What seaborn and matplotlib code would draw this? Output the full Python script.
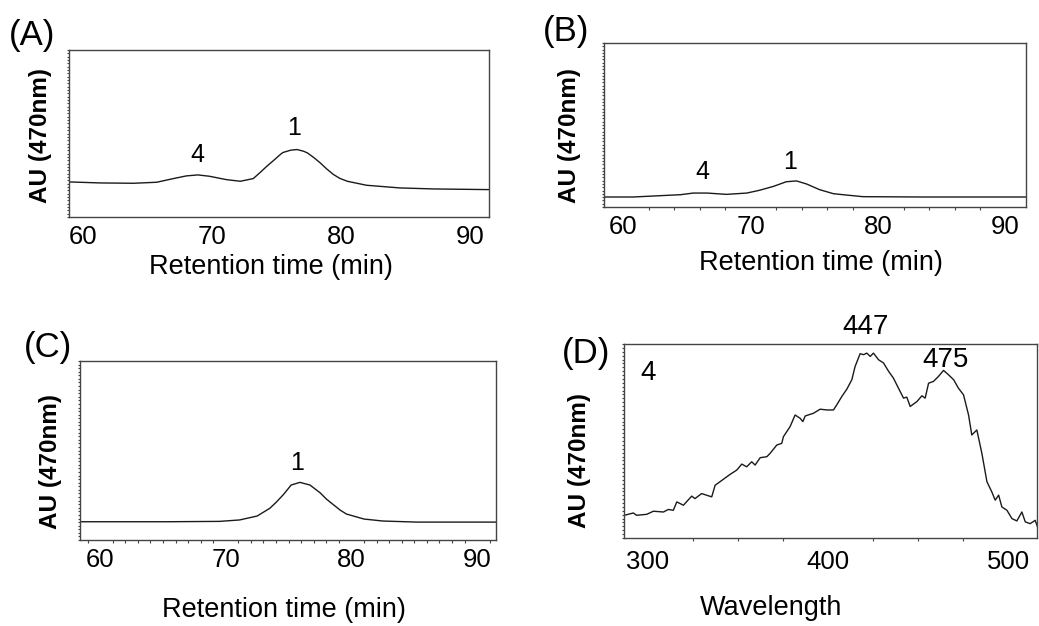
import numpy as np
import pandas as pd
import matplotlib
matplotlib.use("Agg")
import matplotlib.pyplot as plt
from matplotlib.ticker import MultipleLocator, NullLocator
import seaborn as sns

sns.set_style("white")
plt.rcParams['font.family'] = ['Liberation Sans', 'DejaVu Sans']
plt.rcParams['text.color'] = 'black'
plt.rcParams['axes.labelcolor'] = 'black'
plt.rcParams['xtick.color'] = 'black'
plt.rcParams['ytick.color'] = 'black'

# ---------------- data ----------------
# (A) chromatogram
a_time = [58.9, 61.3, 63.9, 65.7, 67.0, 68.0, 68.9, 69.8, 71.1, 72.2, 73.2, 73.7, 74.2,
          74.8, 75.3, 75.5, 76.1, 76.6, 77.1, 77.4, 77.9, 78.4, 78.9, 79.4, 79.9, 80.5,
          82.0, 84.6, 87.2, 91.5]
a_au = [0.210, 0.204, 0.202, 0.208, 0.230, 0.246, 0.252, 0.244, 0.224, 0.214, 0.230, 0.264,
        0.300, 0.340, 0.374, 0.386, 0.400, 0.404, 0.394, 0.384, 0.356, 0.324, 0.288, 0.256,
        0.232, 0.214, 0.190, 0.174, 0.168, 0.164]

# (B) chromatogram
b_time = [58.5, 60.8, 62.9, 64.5, 65.5, 66.6, 68.1, 69.7, 70.7, 71.8, 72.8, 73.6, 74.4,
          75.4, 76.5, 77.5, 78.8, 83.3, 91.6]
b_au = [0.061, 0.061, 0.069, 0.075, 0.085, 0.085, 0.077, 0.085, 0.102, 0.126, 0.154, 0.159,
        0.140, 0.106, 0.081, 0.073, 0.063, 0.061, 0.061]

# (C) chromatogram
c_time = [58.4, 65.3, 69.5, 71.1, 72.5, 73.5, 74.0, 74.6, 75.2, 75.9, 76.7, 77.5, 78.0,
          78.6, 79.1, 79.6, 81.0, 82.5, 85.2, 91.5]
c_au = [0.102, 0.102, 0.104, 0.112, 0.134, 0.177, 0.210, 0.255, 0.307, 0.322, 0.307, 0.264,
        0.229, 0.195, 0.167, 0.145, 0.117, 0.106, 0.100, 0.100]

# (D) UV-Vis spectrum of peak 4
d_wl = [286.9, 291.9, 293.7, 299.3, 303.0, 308.6, 311.3, 314.1, 316.0, 319.7, 324.3, 326.1,
        329.8, 335.4, 337.3, 340.0, 345.6, 349.3, 352.1, 354.8, 357.6, 359.5, 362.3, 366.0,
        367.8, 371.5, 374.3, 375.2, 378.9, 381.7, 384.5, 386.0, 387.3, 391.9, 395.6, 399.3,
        403.0, 404.8, 407.6, 410.4, 413.2, 415.0, 417.8, 419.7, 421.5, 423.4, 425.2, 428.0,
        430.8, 433.6, 436.3, 439.1, 441.9, 443.7, 445.6, 449.3, 452.1, 453.9, 455.8, 458.5,
        461.3, 464.1, 466.9, 469.7, 472.4, 475.2, 478.0, 479.8, 482.6, 485.4, 488.2, 490.9,
        492.8, 494.7, 496.5, 499.3, 502.1, 504.8, 507.6, 509.5, 512.2, 515.0, 516.3]
d_au = [0.117, 0.129, 0.117, 0.122, 0.138, 0.134, 0.147, 0.143, 0.186, 0.169, 0.216, 0.203,
        0.229, 0.212, 0.272, 0.290, 0.328, 0.350, 0.381, 0.367, 0.393, 0.376, 0.414, 0.419,
        0.436, 0.479, 0.488, 0.522, 0.574, 0.634, 0.617, 0.600, 0.629, 0.643, 0.664, 0.660,
        0.660, 0.686, 0.729, 0.767, 0.816, 0.884, 0.950, 0.945, 0.953, 0.936, 0.953, 0.919,
        0.902, 0.859, 0.824, 0.772, 0.721, 0.726, 0.678, 0.703, 0.733, 0.721, 0.798, 0.807,
        0.833, 0.864, 0.841, 0.816, 0.772, 0.738, 0.634, 0.531, 0.557, 0.436, 0.290, 0.238,
        0.195, 0.221, 0.160, 0.143, 0.100, 0.088, 0.134, 0.083, 0.074, 0.091, 0.057]

time_ticks = [60, 70, 80, 90]
wl_ticks = [300, 400, 500]
panel_labels = ["(A)", "(B)", "(C)", "(D)"]
y_label = "AU (470nm)"
x_label_time = "Retention time (min)"
x_label_wl = "Wavelength"

# ---------------- figure ----------------
W, H = 1039, 626
fig = plt.figure(figsize=(W / 100, H / 100), dpi=100)

def px_axes(x0, y0, x1, y1):
    return fig.add_axes([x0 / W, 1 - y1 / H, (x1 - x0) / W, (y1 - y0) / H])

axA = px_axes(69, 50, 489, 217)
axB = px_axes(604, 43, 1026, 207)
axC = px_axes(80, 361, 496, 540)
axD = px_axes(624, 344, 1037, 538)

line_kw = dict(color="#1a1a1a", linewidth=1.0, estimator=None, sort=False)

sns.lineplot(x=a_time, y=a_au, ax=axA, **line_kw)
sns.lineplot(x=b_time, y=b_au, ax=axB, **line_kw)
sns.lineplot(x=c_time, y=c_au, ax=axC, **line_kw)
sns.lineplot(x=d_wl, y=d_au, ax=axD, **line_kw)

axA.set_xlim(58.9, 91.5)
axB.set_xlim(58.5, 91.6)
axC.set_xlim(58.4, 91.5)
axD.set_xlim(286.7, 516.0)

tick_fs = 18.5
for ax, ticks in [(axA, time_ticks), (axB, time_ticks), (axC, time_ticks), (axD, wl_ticks)]:
    ax.set_ylim(0, 1)
    ax.set_xticks(ticks)
    ax.set_xticklabels([str(t) for t in ticks])
    ax.set_yticks([])
    ax.yaxis.set_minor_locator(MultipleLocator(0.02))
    ax.tick_params(axis='y', which='minor', left=True, direction='out', length=1.5,
                   width=0.8, color="#444444")
    ax.tick_params(axis='x', which='major', labelsize=tick_fs, length=0, pad=6,
                   labelcolor='black')
    for s in ax.spines.values():
        s.set_visible(True)
        s.set_color("#444444")
        s.set_linewidth(1.0)

# minor x ticks
axB.xaxis.set_minor_locator(MultipleLocator(2))
axC.xaxis.set_minor_locator(MultipleLocator(1))
axD.xaxis.set_minor_locator(MultipleLocator(25))
for ax in (axB, axC, axD):
    ax.tick_params(axis='x', which='minor', bottom=True, direction='out', length=2.5,
                   width=0.8, color="#444444")
axD.tick_params(axis='x', which='major', length=2.5, width=0.8, color="#444444")

# axis labels
xlab_fs = 19.5
ylab_fs = 17.5
for ax, xl, xpos, ypos in [(axA, x_label_time, 0.481, -0.299),
                            (axB, x_label_time, 0.514, -0.341),
                            (axC, x_label_time, 0.490, -0.391),
                            (axD, x_label_wl, 0.356, -0.361)]:
    ax.set_xlabel(xl, fontsize=xlab_fs, color='black')
    ax.xaxis.set_label_coords(xpos, ypos)
    ax.xaxis.label.set_va('center')

for ax, xpos, ypos in [(axA, -0.069, 0.491), (axB, -0.081, 0.439),
                       (axC, -0.072, 0.441), (axD, -0.107, 0.397)]:
    ax.set_ylabel(y_label, fontsize=ylab_fs, fontweight='bold', color='black')
    ax.yaxis.set_label_coords(xpos, ypos)
    ax.yaxis.label.set_va('center')

# peak annotations
ann_fs = 18
axA.text(68.9, 0.371, "4", fontsize=ann_fs, ha='center', va='center')
axA.text(76.4, 0.533, "1", fontsize=ann_fs, ha='center', va='center')
axB.text(66.2, 0.213, "4", fontsize=ann_fs, ha='center', va='center')
axB.text(73.1, 0.274, "1", fontsize=ann_fs, ha='center', va='center')
axC.text(75.7, 0.430, "1", fontsize=ann_fs, ha='center', va='center')
axD.text(300, 0.85, "4", fontsize=20, ha='center', va='center')
axD.text(420.6, 1.088, "447", fontsize=20, ha='center', va='center', clip_on=False)
axD.text(465, 0.918, "475", fontsize=20, ha='center', va='center')

# panel letters
for lab, (px, py) in zip(panel_labels, [(32, 36), (566, 32), (48, 348), (586, 353)]):
    fig.text(px / W, 1 - py / H, lab, fontsize=25, ha='center', va='center')

fig.savefig("out.png", dpi=100, facecolor='white')
